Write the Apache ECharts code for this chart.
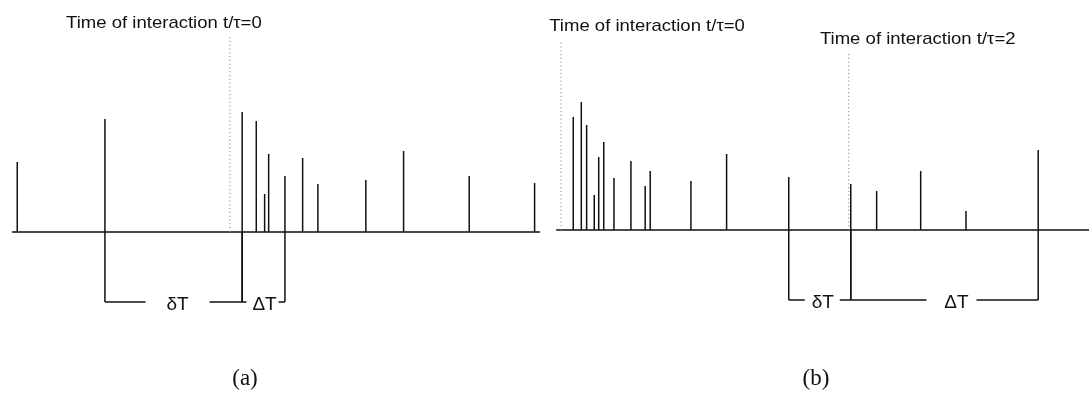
<!DOCTYPE html>
<html>
<head>
<meta charset="utf-8">
<script src="https://cdn.jsdelivr.net/npm/echarts@6/dist/echarts.min.js"></script>
<style>
  html, body { margin: 0; padding: 0; background: #fff; }
  #chart { width: 1089px; height: 404px; }
</style>
</head>
<body>
<div id="chart"></div>
<script>
// Pulse trains: arrival time (t/τ) and amplitude of each pulse.
const spikeTimesA   = [-1.477, -0.868, 0.085, 0.183, 0.241, 0.269, 0.382, 0.505, 0.611, 0.944, 1.206, 1.662, 2.116];
const spikeHeightsA = [0.70, 1.13, 1.20, 1.11, 0.38, 0.78, 0.56, 0.74, 0.48, 0.52, 0.81, 0.56, 0.49];

const spikeTimesB   = [0.085, 0.141, 0.178, 0.231, 0.262, 0.297, 0.368, 0.486, 0.585, 0.620, 0.903, 1.151, 1.583, 2.014, 2.194, 2.500, 2.815, 3.317];
const spikeHeightsB = [1.13, 1.28, 1.05, 0.35, 0.73, 0.88, 0.52, 0.69, 0.44, 0.59, 0.49, 0.76, 0.53, 0.46, 0.39, 0.59, 0.19, 0.80];

// Interaction instants (dotted markers) and their captions.
const markerTimesA  = [0];
const markerTopsA   = [1.95];
const markerLabelsA = ['Time of interaction t/τ=0'];

const markerTimesB  = [0, 2];
const markerTopsB   = [1.90, 1.77];
const markerLabelsB = ['Time of interaction t/τ=0', 'Time of interaction t/τ=2'];

// Interval brackets drawn beneath the time axis.
const bracketFromA   = [-0.868, 0.085];
const bracketToA     = [0.085, 0.382];
const bracketLabelsA = ['δT', 'ΔT'];

const bracketFromB   = [1.583, 2.014];
const bracketToB     = [2.014, 3.317];
const bracketLabelsB = ['δT', 'ΔT'];

const panelCaptions = ['(a)', '(b)'];

// ---- styling ----
const INK = '#111';
const SANS = '"Liberation Sans", Arial, Helvetica, sans-serif';
const SERIF = '"Liberation Serif", "DejaVu Serif", serif';
const BRACKET_DEPTH = -0.70;
// per-marker caption offset (px, from the dotted line to the caption centre)
const markerLabelShiftA = [-66];
const markerLabelShiftB = [86, 69];
// per-bracket: gap centre shift, gap half width, label shift (px)
const bracketStyleA = [{ shift: 4, half: 32, text: 4 }, { shift: -1, half: 16, text: 1 }];
const bracketStyleB = [{ shift: 2.5, half: 17.5, text: 3 }, { shift: 7, half: 25, text: 12 }];

function spikeSeries(gridIdx, times, heights) {
  return {
    type: 'custom',
    xAxisIndex: gridIdx, yAxisIndex: gridIdx,
    z: 5,
    data: times.map((t, i) => [t, heights[i]]),
    renderItem: function (params, api) {
      const b = api.coord([api.value(0), 0]);
      const p = api.coord([api.value(0), api.value(1)]);
      return {
        type: 'line',
        shape: { x1: b[0], y1: b[1], x2: p[0], y2: p[1] },
        style: { stroke: INK, lineWidth: 1.5 }
      };
    }
  };
}

function markerSeries(gridIdx, times, tops, labels, shifts) {
  return {
    type: 'custom',
    xAxisIndex: gridIdx, yAxisIndex: gridIdx,
    z: 2,
    data: times.map((t, i) => [t, tops[i]]),
    renderItem: function (params, api) {
      const i = params.dataIndex;
      const b = api.coord([api.value(0), 0]);
      const p = api.coord([api.value(0), api.value(1)]);
      return {
        type: 'group',
        children: [
          {
            type: 'line',
            shape: { x1: p[0], y1: b[1], x2: p[0], y2: p[1] },
            style: { stroke: '#8a8a8a', lineWidth: 1, lineDash: [1.2, 2.6] }
          },
          {
            type: 'text',
            x: p[0] + shifts[i], y: p[1] - 13.5,
            scaleX: 1.09,
            style: {
              text: labels[i], x: 0, y: 0,
              align: 'center', verticalAlign: 'middle',
              font: '17px ' + SANS, fill: INK
            }
          }
        ]
      };
    }
  };
}

function bracketSeries(gridIdx, from, to, labels, styles) {
  return {
    type: 'custom',
    xAxisIndex: gridIdx, yAxisIndex: gridIdx,
    z: 4,
    data: from.map((f, i) => [f, to[i], BRACKET_DEPTH]),
    renderItem: function (params, api) {
      const i = params.dataIndex;
      const st = styles[i];
      const a0 = api.coord([api.value(0), 0]);
      const a1 = api.coord([api.value(0), api.value(2)]);
      const b0 = api.coord([api.value(1), 0]);
      const b1 = api.coord([api.value(1), api.value(2)]);
      const y = a1[1];
      const mid = (a1[0] + b1[0]) / 2;
      const gc = mid + st.shift;
      const ls = { stroke: INK, lineWidth: 1.5 };
      return {
        type: 'group',
        children: [
          { type: 'line', shape: { x1: a0[0], y1: a0[1], x2: a1[0], y2: y }, style: ls },
          { type: 'line', shape: { x1: b0[0], y1: b0[1], x2: b1[0], y2: y }, style: ls },
          { type: 'line', shape: { x1: a1[0], y1: y, x2: gc - st.half, y2: y }, style: ls },
          { type: 'line', shape: { x1: gc + st.half, y1: y, x2: b1[0], y2: y }, style: ls },
          {
            type: 'text',
            x: mid + st.text, y: y + 3,
            style: {
              text: labels[i], x: 0, y: 0,
              align: 'center', verticalAlign: 'middle',
              font: '19px ' + SANS, fill: INK
            }
          }
        ]
      };
    }
  };
}

const hiddenValueAxis = (gridIndex, min, max, showLine) => ({
  type: 'value', gridIndex, min, max,
  axisLine: { show: showLine, onZero: true, lineStyle: { color: INK, width: 1.6 } },
  axisTick: { show: false }, axisLabel: { show: false }, splitLine: { show: false }
});

const chart = echarts.init(document.getElementById('chart'), null, { renderer: 'canvas' });
chart.setOption({
  animation: false,
  backgroundColor: '#fff',
  grid: [
    { left: 12.5, top: 32, width: 527, height: 280 },
    { left: 556.7, top: 30, width: 532.8, height: 280 }
  ],
  xAxis: [
    hiddenValueAxis(0, -1.51, 2.15, true),
    hiddenValueAxis(1, -0.03, 3.67, true)
  ],
  yAxis: [
    hiddenValueAxis(0, -0.8, 2.0, false),
    hiddenValueAxis(1, -0.8, 2.0, false)
  ],
  graphic: [
    { type: 'text', x: 245, y: 379, style: { text: panelCaptions[0], align: 'center', verticalAlign: 'middle', font: '23px ' + SERIF, fill: INK } },
    { type: 'text', x: 816, y: 379, style: { text: panelCaptions[1], align: 'center', verticalAlign: 'middle', font: '23px ' + SERIF, fill: INK } }
  ],
  series: [
    markerSeries(0, markerTimesA, markerTopsA, markerLabelsA, markerLabelShiftA),
    bracketSeries(0, bracketFromA, bracketToA, bracketLabelsA, bracketStyleA),
    spikeSeries(0, spikeTimesA, spikeHeightsA),
    markerSeries(1, markerTimesB, markerTopsB, markerLabelsB, markerLabelShiftB),
    bracketSeries(1, bracketFromB, bracketToB, bracketLabelsB, bracketStyleB),
    spikeSeries(1, spikeTimesB, spikeHeightsB)
  ]
});
</script>
</body>
</html>
